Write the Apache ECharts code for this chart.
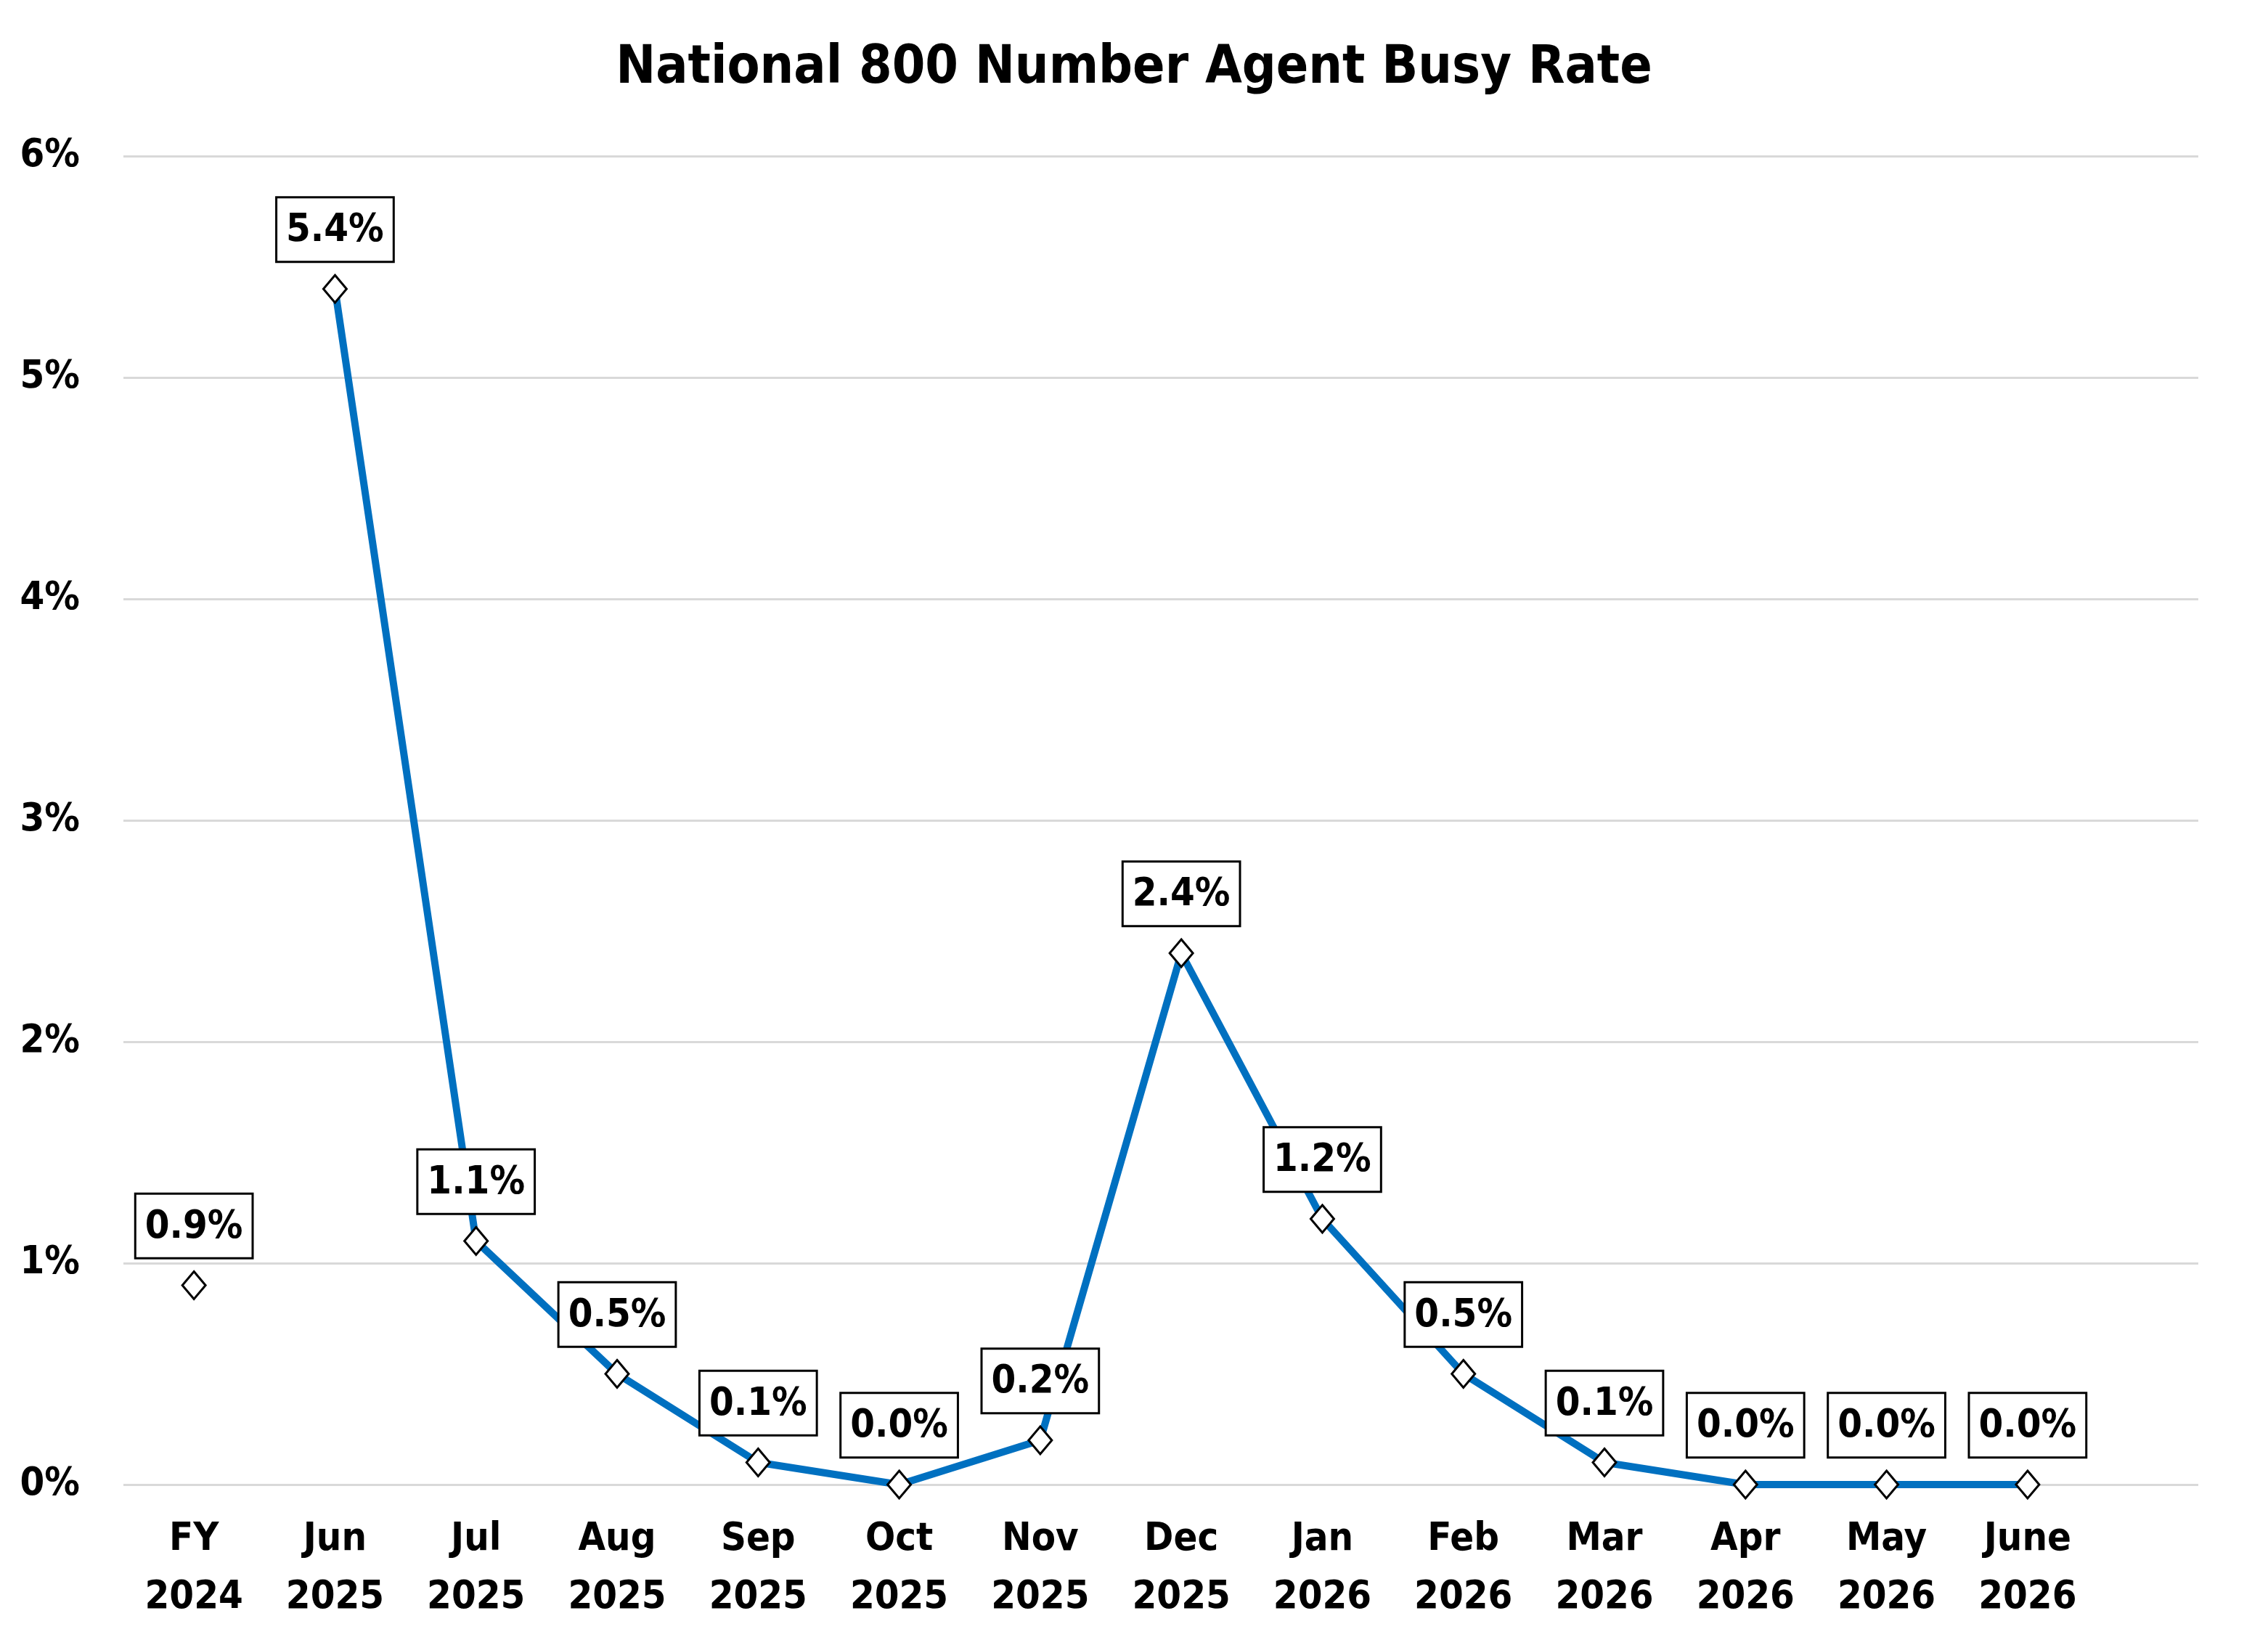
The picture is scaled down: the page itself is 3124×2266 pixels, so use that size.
<!DOCTYPE html>
<html>
<head>
<meta charset="utf-8">
<script src="https://cdn.jsdelivr.net/npm/echarts@6/dist/echarts.min.js"></script>
<style>
  html, body { margin: 0; padding: 0; background: #fff; }
  #chart { width: 3124px; height: 2266px; }
</style>
</head>
<body>
<div id="chart"></div>
<script>
var categories = ["FY\n2024", "Jun\n2025", "Jul\n2025", "Aug\n2025", "Sep\n2025", "Oct\n2025", "Nov\n2025",
    "Dec\n2025", "Jan\n2026", "Feb\n2026", "Mar\n2026", "Apr\n2026", "May\n2026", "June\n2026"];
// FY 2024 stands alone, the monthly values are joined by the line
var fyValues = [0.9, "-", "-", "-", "-", "-", "-", "-", "-", "-", "-", "-", "-", "-"];
var monthValues = ["-", 5.4, 1.1, 0.5, 0.1, 0.0, 0.2, 2.4, 1.2, 0.5, 0.1, 0.0, 0.0, 0.0];
var yTicks = [0, 1, 2, 3, 4, 5, 6];

var fontName = '"Liberation Sans Narrow", "DejaVu Sans Condensed", "Liberation Sans", sans-serif';

var labelStyle = {
    show: true,
    position: 'top',
    distance: 18,
    formatter: function (p) { return p.value.toFixed(1) + '%'; },
    fontFamily: fontName,
    fontWeight: 'bold',
    fontSize: 54,
    color: '#000',
    backgroundColor: '#fff',
    borderColor: '#000',
    borderWidth: 3,
    padding: [18, 12, 14, 12]
};

var markerStyle = {
    color: '#fff',
    borderColor: '#000',
    borderWidth: 3
};

var myChart = echarts.init(document.getElementById('chart'));

var option = {
    backgroundColor: '#fff',
    animation: false,
    title: {
        text: 'National 800 Number Agent Busy Rate',
        left: 'center',
        top: 54,
        textStyle: {
            fontFamily: fontName,
            fontWeight: 'bold',
            fontSize: 73,
            color: '#000'
        }
    },
    grid: [
        // plot area for the gridlines (runs further right than the categories)
        { left: 170, right: 96, top: 215, bottom: 221 },
        // plot area for the categories and the line
        { left: 170, right: 234, top: 215, bottom: 221 }
    ],
    xAxis: [
        {
            gridIndex: 0,
            type: 'category',
            data: [''],
            show: false
        },
        {
            gridIndex: 1,
            type: 'category',
            data: categories,
            boundaryGap: true,
            axisLine: { show: false },
            axisTick: { show: false },
            axisLabel: {
                margin: 36,
                fontFamily: fontName,
                fontWeight: 'bold',
                fontSize: 54,
                lineHeight: 80,
                color: '#000',
                interval: 0
            }
        }
    ],
    yAxis: [
        {
            gridIndex: 0,
            type: 'value',
            min: yTicks[0],
            max: yTicks[yTicks.length - 1],
            interval: 1,
            axisLine: { show: false },
            axisTick: { show: false },
            axisLabel: {
                margin: 60,
                formatter: '{value}%',
                fontFamily: fontName,
                fontWeight: 'bold',
                fontSize: 54,
                color: '#000'
            },
            splitLine: { lineStyle: { color: '#d9d9d9', width: 3 } }
        },
        {
            gridIndex: 1,
            type: 'value',
            min: yTicks[0],
            max: yTicks[yTicks.length - 1],
            interval: 1,
            show: false,
            splitLine: { show: false }
        }
    ],
    series: [
        {
            name: 'FY',
            type: 'line',
            xAxisIndex: 1,
            yAxisIndex: 1,
            data: fyValues,
            symbol: 'diamond',
            symbolSize: [32, 38],
            lineStyle: { width: 0 },
            itemStyle: markerStyle,
            label: labelStyle,
            z: 3
        },
        {
            name: 'Busy Rate',
            type: 'line',
            xAxisIndex: 1,
            yAxisIndex: 1,
            data: monthValues,
            connectNulls: false,
            symbol: 'diamond',
            symbolSize: [32, 38],
            showAllSymbol: true,
            lineStyle: { color: '#0070c0', width: 10 },
            itemStyle: markerStyle,
            label: labelStyle,
            z: 3
        }
    ]
};

myChart.setOption(option);
</script>
</body>
</html>
